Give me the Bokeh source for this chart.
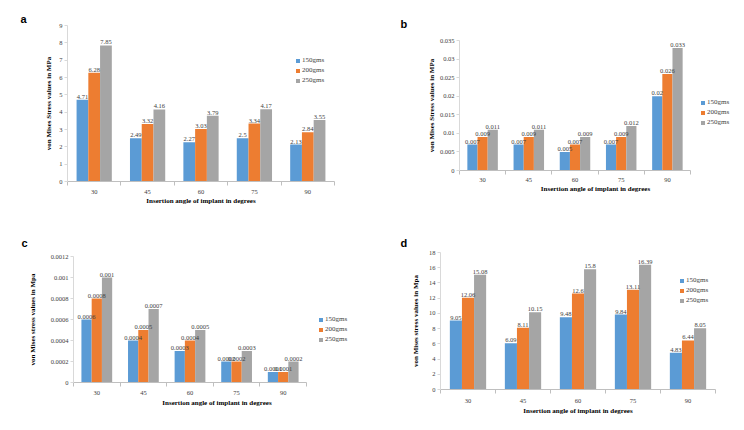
from bokeh.plotting import figure
from bokeh.models import Range1d, FixedTicker, Legend, LegendItem, ColumnDataSource
from bokeh.layouts import column, row
from bokeh.transform import dodge
from bokeh.embed import file_html
from bokeh.resources import INLINE

angles = ["30", "45", "60", "75", "90"]
loads = ["150gms", "200gms", "250gms"]
colors = ["#5B9BD5", "#ED7D31", "#A5A5A5"]

# panel a
a_150 = [4.71, 2.49, 2.27, 2.5, 2.13]
a_200 = [6.28, 3.32, 3.03, 3.34, 2.84]
a_250 = [7.85, 4.16, 3.79, 4.17, 3.55]
a_ticks = [0, 1, 2, 3, 4, 5, 6, 7, 8, 9]
a_tick_labels = ["0", "1", "2", "3", "4", "5", "6", "7", "8", "9"]

# panel b
b_150 = [0.007, 0.007, 0.005, 0.007, 0.02]
b_200 = [0.009, 0.009, 0.007, 0.009, 0.026]
b_250 = [0.011, 0.011, 0.009, 0.012, 0.033]
b_ticks = [0, 0.005, 0.01, 0.015, 0.02, 0.025, 0.03, 0.035]
b_tick_labels = ["0", "0.005", "0.01", "0.015", "0.02", "0.025", "0.03", "0.035"]

# panel c
c_150 = [0.0006, 0.0004, 0.0003, 0.0002, 0.0001]
c_200 = [0.0008, 0.0005, 0.0004, 0.0002, 0.0001]
c_250 = [0.001, 0.0007, 0.0005, 0.0003, 0.0002]
c_ticks = [0, 0.0002, 0.0004, 0.0006, 0.0008, 0.001, 0.0012]
c_tick_labels = ["0", "0.0002", "0.0004", "0.0006", "0.0008", "0.001", "0.0012"]

# panel d
d_150 = [9.05, 6.09, 9.48, 9.84, 4.83]
d_200 = [12.06, 8.11, 12.6, 13.11, 6.44]
d_250 = [15.08, 10.15, 15.8, 16.39, 8.05]
d_ticks = [0, 2, 4, 6, 8, 10, 12, 14, 16, 18]
d_tick_labels = ["0", "2", "4", "6", "8", "10", "12", "14", "16", "18"]

x_title = "Insertion angle of implant in degrees"
SERIF = "Liberation Serif"
SANS = "Liberation Sans"


def panel(letter, series, ymax, yticks, ylabels, ytitle, geo):
    n = len(angles)
    # the frame may extend past the last category (room for an outside legend)
    x_end = n * geo["frame_w"] / geo["data_w"]
    p = figure(width=geo["w"], height=geo["h"], output_backend="svg", toolbar_location=None,
               x_range=Range1d(0, x_end), y_range=Range1d(0, ymax),
               min_border_left=geo["left"], min_border_right=geo["right"],
               min_border_top=geo["top"], min_border_bottom=geo["bottom"],
               frame_align=False)
    p.outline_line_color = None
    p.xgrid.visible = False
    p.ygrid.visible = False
    p.background_fill_color = "white"
    p.border_fill_color = "white"

    # panel letter as a left-aligned title
    p.title.text = letter
    p.title.align = "left"
    p.title.offset = geo["lx"]
    p.title.standoff = geo["ls"]
    p.title.text_font = SANS
    p.title.text_font_style = "bold"
    p.title.text_font_size = "11px"
    p.title.text_color = "#000000"

    centers = [i + 0.5 for i in range(n)]
    data = {"x": centers}
    for k, s in enumerate(series):
        data["v%d" % k] = s
        data["t%d" % k] = [str(v) for v in s]
    src = ColumnDataSource(data)

    bw = 0.22
    offsets = [-bw, 0.0, bw]
    rends = []
    for k in range(3):
        r = p.vbar(x=dodge("x", offsets[k], range=p.x_range), top="v%d" % k, width=bw,
                   source=src, fill_color=colors[k], line_color=None)
        rends.append(r)
    for k in range(3):
        p.text(x=dodge("x", offsets[k], range=p.x_range), y="v%d" % k, text="t%d" % k,
               source=src, text_align="center", text_baseline="bottom", y_offset=-1,
               text_font=SERIF, text_font_size="6.5px", text_color="#404040")

    xa = p.xaxis[0]
    xa.bounds = (0, n)
    xa.ticker = FixedTicker(ticks=centers, minor_ticks=list(range(n + 1)))
    xa.major_label_overrides = {c: a for c, a in zip(centers, angles)}
    xa.major_tick_out = 0
    xa.major_tick_in = 0
    xa.minor_tick_out = 4
    xa.minor_tick_in = 0
    xa.minor_tick_line_color = "#BFBFBF"
    xa.axis_line_color = "#BFBFBF"
    xa.major_label_standoff = geo["xls"]
    xa.major_label_text_font = SERIF
    xa.major_label_text_font_size = "6.5px"
    xa.major_label_text_color = "#404040"
    xa.axis_label = x_title
    xa.axis_label_text_font = SERIF
    xa.axis_label_text_font_style = "bold"
    xa.axis_label_text_font_size = "7px"
    xa.axis_label_text_color = "#000000"
    xa.axis_label_standoff = geo["xts"]

    ya = p.yaxis[0]
    ya.ticker = FixedTicker(ticks=yticks)
    ya.major_label_overrides = {t: l for t, l in zip(yticks, ylabels)}
    ya.minor_tick_line_color = None
    ya.major_tick_out = 3
    ya.major_tick_in = 0
    ya.major_tick_line_color = "#D9D9D9"
    ya.axis_line_color = "#D9D9D9"
    ya.major_label_standoff = 2
    ya.major_label_text_font = SERIF
    ya.major_label_text_font_size = "6.5px"
    ya.major_label_text_color = "#404040"
    ya.axis_label = ytitle
    ya.axis_label_text_font = SERIF
    ya.axis_label_text_font_style = "bold"
    ya.axis_label_text_font_size = "7px"
    ya.axis_label_text_color = "#000000"
    ya.axis_label_standoff = geo["yts"]

    leg = Legend(items=[LegendItem(label=loads[k], renderers=[rends[k]]) for k in range(3)],
                 location=geo["leg"], orientation="vertical",
                 border_line_color=None, background_fill_alpha=0,
                 padding=0, margin=0, spacing=0, label_height=10,
                 glyph_height=5, glyph_width=5, label_standoff=2,
                 label_text_font=SERIF, label_text_font_size="7px",
                 label_text_color="#404040")
    p.add_layout(leg)
    return p


pa = panel("a", [a_150, a_200, a_250], 9, a_ticks, a_tick_labels,
           "von Mises Stress values in MPa",
           dict(w=372, h=215, left=67, right=38, top=25, bottom=34, xls=4, xts=0, yts=3,
                frame_w=267, data_w=267, leg=(228, 96), lx=-47, ls=1))
pb = panel("b", [b_150, b_200, b_250], 0.035, b_ticks, b_tick_labels,
           "von Mises Stress values in MPa",
           dict(w=364, h=215, left=87, right=5, top=40, bottom=45, xls=3, xts=0, yts=1,
                frame_w=272, data_w=231, leg=(241, 43), lx=-59, ls=21))
pc = panel("c", [c_150, c_200, c_250], 0.0012, c_ticks, c_tick_labels,
           "von Mises stress values in Mpa",
           dict(w=372, h=207, left=73, right=12, top=41, bottom=40, xls=4, xts=1, yts=11,
                frame_w=287, data_w=233, leg=(245, 38), lx=-52, ls=16))
pd_ = panel("d", [d_150, d_200, d_250], 18, d_ticks, d_tick_labels,
            "von Mises stress values in Mpa",
            dict(w=364, h=207, left=68, right=21, top=37, bottom=33, xls=5, xts=1, yts=6,
                 frame_w=275, data_w=275, leg=(239, 84), lx=-40, ls=8))

layout = column(row(pa, pb, spacing=0), row(pc, pd_, spacing=0), spacing=0)
open("out.html", "w").write(file_html(layout, INLINE))
